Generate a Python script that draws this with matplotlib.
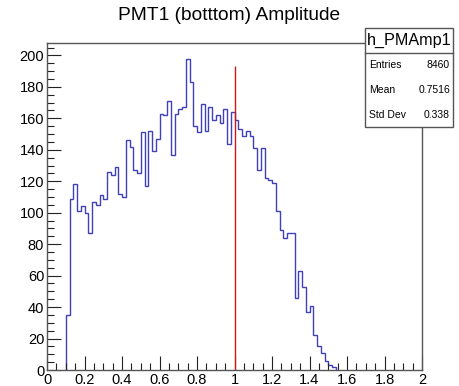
import numpy as np
import matplotlib.pyplot as plt
from matplotlib.patches import Rectangle
from matplotlib.lines import Line2D
from matplotlib.ticker import MultipleLocator

plt.rcParams['font.family'] = ['Liberation Sans', 'DejaVu Sans']

# histogram h_PMAmp1, 0.02 wide bins starting at 0.10
bin_lo = 0.10
bin_w = 0.02
counts = [35, 109, 118, 101, 104, 100, 87, 107, 105, 111,
          109, 126, 124, 129, 112, 110, 146, 142, 127, 125,
          151, 117, 152, 139, 147, 163, 162, 171, 137, 163,
          166, 167, 198, 183, 155, 151, 169, 152, 167, 159,
          162, 157, 166, 144, 164, 159, 153, 149, 152, 149,
          141, 127, 141, 122, 121, 119, 101, 89, 84, 87,
          87, 46, 63, 53, 37, 41, 22, 15, 11, 6,
          3, 2]
marker_x = 1.0
marker_top = 193

title = 'PMT1 (botttom) Amplitude'
hist_name = 'h_PMAmp1'
stats = [('Entries', '8460'), ('Mean', '0.7516'), ('Std Dev', '0.338')]

W, H = 459, 386
fig = plt.figure(figsize=(W / 100, H / 100), dpi=100)


def fx(px):
    return px / W


def fy(py):
    return 1 - py / H


ax = fig.add_axes([fx(47), fy(370), fx(422) - fx(47), fy(43) - fy(370)])

edges = bin_lo + bin_w * np.arange(len(counts) + 1)
ax.stairs(counts, edges, baseline=0, color='#4040bb', lw=1.0)
ax.vlines(marker_x, 0, marker_top, color='#d01818', lw=1.0)

ax.set_xlim(0, 2)
ax.set_ylim(0, max(counts) * 1.05)
ax.xaxis.set_major_locator(MultipleLocator(0.2))
ax.xaxis.set_minor_locator(MultipleLocator(0.05))
ax.yaxis.set_major_locator(MultipleLocator(20))
ax.yaxis.set_minor_locator(MultipleLocator(5))
ax.xaxis.set_major_formatter(plt.FuncFormatter(lambda v, p: ('%g' % round(v, 2))))
ax.tick_params(which='both', direction='in', top=False, right=False,
               labelsize=10.5, color='#222222', pad=2)
ax.tick_params(which='major', length=10, width=0.8)
ax.tick_params(which='minor', length=5, width=0.8)
for s in ax.spines.values():
    s.set_color('#555555')
    s.set_linewidth(1.0)

fig.text(0.5, fy(15), title, ha='center', va='center', fontsize=13.8)

# stats box
bx0, bx1, by0, by1, bsep = 365, 453, 28, 127, 53
fig.add_artist(Rectangle((fx(bx0), fy(by1)), fx(bx1) - fx(bx0), fy(by0) - fy(by1),
                         transform=fig.transFigure, facecolor='white',
                         edgecolor='#555555', lw=1.0, zorder=5))
fig.add_artist(Line2D([fx(bx0), fx(bx1)], [fy(bsep), fy(bsep)],
                      transform=fig.transFigure, color='#555555', lw=1.0, zorder=6))
fig.text(fx((bx0 + bx1) / 2), fy((by0 + bsep) / 2), hist_name,
         ha='center', va='center', fontsize=11.6, zorder=7)
row_h = (by1 - bsep) / len(stats)
for i, (lab, val) in enumerate(stats):
    yy = fy(bsep + row_h * (i + 0.5))
    fig.text(fx(bx0 + 4), yy, lab, ha='left', va='center', fontsize=7.5, zorder=7)
    fig.text(fx(bx1 - 3), yy, val, ha='right', va='center', fontsize=7.5, zorder=7)

fig.savefig('out.png', dpi=100)
